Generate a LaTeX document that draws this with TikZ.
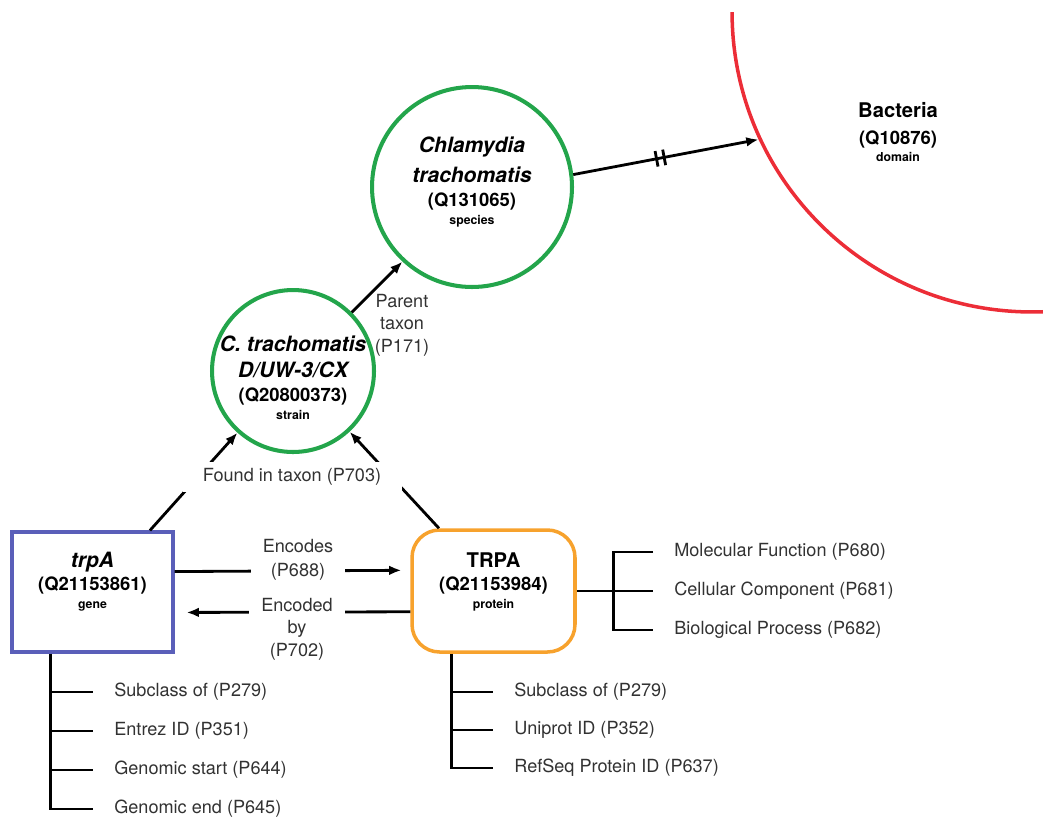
\documentclass[tikz,border=0pt]{standalone}
\usepackage{fontspec}
\setmainfont{TeX Gyre Heros}
\usetikzlibrary{arrows.meta,decorations.markings}
\definecolor{taxgreen}{RGB}{35,165,75}
\definecolor{domred}{RGB}{236,45,55}
\definecolor{geneblue}{RGB}{90,95,185}
\definecolor{protorange}{RGB}{247,162,45}
\definecolor{proptext}{RGB}{50,50,50}
\newcommand\taxname[1]{{\fontsize{12}{14}\selectfont\bfseries\itshape #1}}
\newcommand\tname[1]{{\fontsize{11.5}{14}\selectfont\bfseries #1}}
\newcommand\qnum[1]{{\fontsize{10.5}{13}\selectfont\bfseries #1}}
\newcommand\rankname[1]{{\fontsize{7}{8}\selectfont\bfseries #1}}
\begin{document}
\begin{tikzpicture}[x=0.02cm, y=-0.02cm,
    conn/.style={line width=1.6pt},
    arr/.style={conn, -{Latex[length=7pt,width=5.5pt]}},
    taxon/.style={circle, draw=taxgreen, line width=2.3pt, inner sep=0pt},
    boxtext/.style={align=center, font=\fontsize{10.5}{13.6}\selectfont\bfseries},
    rel/.style={text=proptext, align=center, font=\fontsize{10.3}{12.8}\selectfont},
    prop/.style={text=proptext, font=\fontsize{10.3}{12}\selectfont, anchor=west, inner xsep=0.42cm, inner ysep=1pt}]
\useasboundingbox (0,0) rectangle (1043,816);

\begin{scope}
\clip (0,12) rectangle (1043,816);
\node [circle, draw=domred, line width=2pt, minimum size=12cm, inner sep=0pt] (bacteria) at (1032,12) {};
\end{scope}
\node [boxtext] (bactlbl) at (898,132) {\tname{Bacteria}\\[1.7pt]\qnum{(Q10876)}\\[-4pt]\rankname{domain}};

\node [taxon, minimum size=4cm,
    label={[boxtext, yshift=3pt]center:{\taxname{Chlamydia}\\[3.4pt]\taxname{trachomatis}\\\qnum{(Q131065)}\\[-3.4pt]\rankname{species}}}]
    (species) at (472,187) {};
\node [taxon, minimum size=3.24cm,
    label={[boxtext, yshift=-4pt]center:{\taxname{C. trachomatis}\\[1.1pt]\taxname{D/UW-3/CX}\\\qnum{(Q20800373)}\\[-3.4pt]\rankname{strain}}}]
    (strain) at (293,371) {};
\node [draw=geneblue, line width=1.8pt, minimum width=3.22cm, minimum height=2.4cm,
    label={[boxtext, yshift=6pt]center:{\taxname{trpA}\\[-0.6pt]\qnum{(Q21153861)}\\[-3.4pt]\rankname{gene}}}]
    (gene) at (92.5,592) {};
\node [draw=protorange, line width=2pt, rounded corners=0.55cm, minimum width=3.26cm, minimum height=2.44cm,
    label={[boxtext, yshift=5pt]center:{\tname{TRPA}\\[-0.4pt]\qnum{(Q21153984)}\\[-3.4pt]\rankname{protein}}}]
    (trpa) at (493.5,591) {};

\draw [arr, postaction={decorate, decoration={markings, mark=at position 0.47 with
    {\draw [conn, -] (-2.2pt,-4.5pt) -- (-2.2pt,4.5pt) (2.2pt,-4.5pt) -- (2.2pt,4.5pt);}}}]
    (species.7) -- (bacteria.205);
\draw [arr] (strain.45) -- (species.227);
\node [rel] (ptlbl) at (402,325) {Parent\\taxon\\(P171)};

\draw [arr] (gene.47) -- (strain.228);
\draw [arr] (trpa.131) -- (strain.313);
\node [rel, fill=white, inner xsep=11.6pt, inner ysep=3.7pt] (fitlbl) at (292,477) {Found in taxon (P703)};

\draw [arr, shorten >=5pt] (gene.14) -- (trpa.166);
\node [rel, fill=white, inner xsep=6.8pt, inner ysep=1pt] (enclbl) at (298,560) {Encodes\\[0.8pt](P688)};
\draw [arr, shorten >=6.8pt] (trpa.194) -- (gene.-14);
\node [rel, fill=white, inner xsep=7pt, inner ysep=1pt] (encblbl) at (297,629) {Encoded\\by\\(P702)};

\foreach \t [count=\i] in {Subclass of (P279), Entrez ID (P351), Genomic start (P644), Genomic end (P645)}
    \node [prop] (gp\i) at (93,653+39*\i) {\t};
\coordinate (gstem) at ([xshift=0.8cm]gene.south west);
\draw [conn] (gstem) |- (gp4.west);
\foreach \i in {1,2,3}
    \draw [conn] (gstem |- gp\i.west) -- (gp\i.west);

\foreach \t [count=\i] in {Subclass of (P279), Uniprot ID (P352), RefSeq Protein ID (P637)}
    \node [prop] (pp\i) at (493,654+38*\i) {\t};
\coordinate (pstem) at ([xshift=0.82cm]trpa.south west);
\draw [conn] (pstem) |- (pp3.west);
\foreach \i in {1,2}
    \draw [conn] (pstem |- pp\i.west) -- (pp\i.west);

\foreach \t [count=\i] in {Molecular Function (P680), Cellular Component (P681), Biological Process (P682)}
    \node [prop] (tr\i) at (653,513+39*\i) {\t};
\coordinate (rstem) at ([xshift=0.74cm]trpa.east);
\draw [conn] (trpa.east) -- (tr2.west);
\draw [conn] (tr1.west) -| (rstem |- tr3.west) -- (tr3.west);

\end{tikzpicture}
\end{document}
